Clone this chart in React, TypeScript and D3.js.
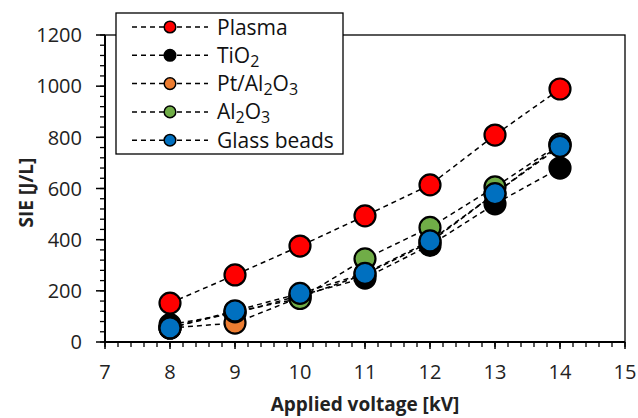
import React from "react";
import * as d3 from "d3";

// applied voltage [kV]
const voltages = [8, 9, 10, 11, 12, 13, 14];

// SIE [J/L]
const plasma = [152, 262, 375, 493, 614, 809, 989];
const tio2 = [68, 112, 182, 250, 378, 540, 680];
const ptAl2o3 = [55, 74, 175, 265, 390, 580, 772];
const al2o3 = [55, 118, 170, 325, 448, 606, 774];
const glassBeads = [55, 122, 190, 268, 395, 580, 765];

const xTicks = [7, 8, 9, 10, 11, 12, 13, 14, 15];
const yTicks = [0, 200, 400, 600, 800, 1000, 1200];

type Part = { t: string; sub?: boolean };
const series: { parts: Part[]; color: string; values: number[] }[] = [
  { parts: [{ t: "Plasma" }], color: "#ff0000", values: plasma },
  { parts: [{ t: "TiO" }, { t: "2", sub: true }], color: "#000000", values: tio2 },
  {
    parts: [{ t: "Pt/Al" }, { t: "2", sub: true }, { t: "O" }, { t: "3", sub: true }],
    color: "#ed7d31",
    values: ptAl2o3,
  },
  {
    parts: [{ t: "Al" }, { t: "2", sub: true }, { t: "O" }, { t: "3", sub: true }],
    color: "#70ad47",
    values: al2o3,
  },
  { parts: [{ t: "Glass beads" }], color: "#0070c0", values: glassBeads },
];

const W = 638;
const H = 418;
const left = 105;
const right = 625;
const top = 35;
const bottom = 342;
const font = "'Open Sans', 'Liberation Sans', sans-serif";

export default function App() {
  const x = d3.scaleLinear().domain([7, 15]).range([left, right]);
  const y = d3.scaleLinear().domain([0, 1200]).range([bottom, top]);
  const line = d3
    .line<number>()
    .x((_, i) => x(voltages[i]))
    .y((d) => y(d));

  const xMinor = d3.range(7, 15.001, 0.2);
  const yMinor = d3.range(0, 1200.1, 40);

  const legX = 116;
  const legY = 13;
  const legW = 227;
  const legH = 141;
  const rowY = (i: number) => 27 + i * 28.3;

  return (
    <svg
      width={W}
      height={H}
      style={{ position: "absolute", left: 0, top: 0, background: "#fff" }}
      fontFamily={font}
    >
      {/* plot frame */}
      <rect x={left} y={top} width={right - left} height={bottom - top} fill="none" stroke="#000" strokeWidth={1.3} />

      {/* y ticks */}
      {yMinor.map((v) => (
        <line key={"ym" + v} x1={left - 5} x2={left} y1={y(v)} y2={y(v)} stroke="#000" strokeWidth={1.3} />
      ))}
      {yTicks.map((v) => (
        <g key={"y" + v}>
          <line x1={left - 9} x2={left} y1={y(v)} y2={y(v)} stroke="#000" strokeWidth={1.5} />
          <text x={82} y={y(v)} dy="0.36em" textAnchor="end" fontSize={20} fill="#222">
            {v}
          </text>
        </g>
      ))}
      <line x1={left} x2={left} y1={top} y2={bottom} stroke="#000" strokeWidth={2} />

      {/* x ticks */}
      {xMinor.map((v) => (
        <line key={"xm" + v} x1={x(v)} x2={x(v)} y1={bottom} y2={bottom + 5} stroke="#000" strokeWidth={1.3} />
      ))}
      {xTicks.map((v) => (
        <g key={"x" + v}>
          <line x1={x(v)} x2={x(v)} y1={bottom} y2={bottom + 7} stroke="#000" strokeWidth={1.5} />
          <text x={x(v)} y={bottom + 30} dy="0.36em" textAnchor="middle" fontSize={20} fill="#222">
            {v}
          </text>
        </g>
      ))}
      <line x1={left} x2={right} y1={bottom} y2={bottom} stroke="#000" strokeWidth={2} />

      {/* axis titles */}
      <text x={(left + right) / 2} y={411} textAnchor="middle" fontSize={19} fontWeight="bold" fill="#222">
        Applied voltage [kV]
      </text>
      <text
        transform={`translate(33,${(top + bottom) / 2 + 4}) rotate(-90)`}
        textAnchor="middle"
        fontSize={19}
        fontWeight="bold"
        fill="#222"
      >
        SIE [J/L]
      </text>

      {/* series */}
      {series.map((s, si) => (
        <g key={"s" + si}>
          <path d={line(s.values) || ""} fill="none" stroke="#000" strokeWidth={1.5} strokeDasharray="5,4" />
          {s.values.map((v, i) => (
            <circle key={i} cx={x(voltages[i])} cy={y(v)} r={10.5} fill={s.color} stroke="#000" strokeWidth={2.2} />
          ))}
        </g>
      ))}

      {/* legend */}
      <rect x={legX} y={legY} width={legW} height={legH} fill="#fff" stroke="#000" strokeWidth={1.3} />
      {series.map((s, i) => (
        <g key={"l" + i}>
          <line x1={132} x2={208} y1={rowY(i)} y2={rowY(i)} stroke="#000" strokeWidth={1.5} strokeDasharray="5,4" />
          <circle cx={170} cy={rowY(i)} r={5.8} fill={s.color} stroke="#000" strokeWidth={1.5} />
          <text x={217} y={rowY(i)} dy="0.36em" fontSize={21} fill="#111">
            {s.parts.map((p, k) =>
              p.sub ? (
                <tspan key={k} fontSize={16} baselineShift="-25%">
                  {p.t}
                </tspan>
              ) : (
                <tspan key={k}>{p.t}</tspan>
              )
            )}
          </text>
        </g>
      ))}
    </svg>
  );
}
